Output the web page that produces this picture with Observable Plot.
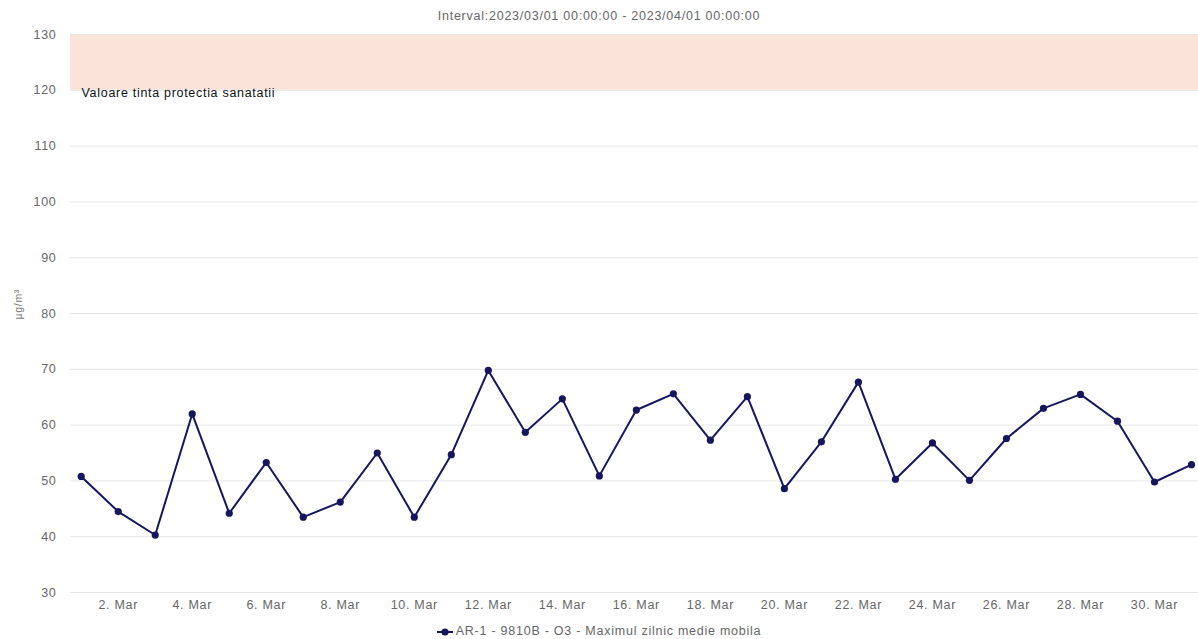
<!DOCTYPE html>
<html>
<head>
<meta charset="utf-8">
<script src="https://cdn.jsdelivr.net/npm/d3@7"></script>
<script src="https://cdn.jsdelivr.net/npm/@observablehq/plot@0.6"></script>
<style>
  html, body { margin: 0; padding: 0; background: #fff; }
  body { width: 1198px; height: 639px; position: relative; overflow: hidden; font-family: "Liberation Sans", Arial, sans-serif; }
  #title { position: absolute; top: 9px; left: 0; width: 1198px; text-align: center; font-size: 12.5px; letter-spacing: 0.75px; color: #666; }
  #chart { position: absolute; top: 0; left: 0; }
  #legend { position: absolute; top: 624px; left: 0; width: 1198px; text-align: center; font-size: 12.5px; letter-spacing: 0.75px; color: #666; }
  #legend svg { vertical-align: middle; margin-right: 3px; }
  #chart svg text { letter-spacing: 0.7px; }
</style>
</head>
<body>
<div id="chart"></div>
<div id="title"></div>
<div id="legend"></div>
<script>
const titleText = "Interval:2023/03/01 00:00:00 - 2023/04/01 00:00:00";
const seriesName = "AR-1 - 9810B - O3 - Maximul zilnic medie mobila";
const yLabel = "µg/m³";
const bandLabel = "Valoare tinta protectia sanatatii";
const bandRange = [120, 130];
const yTicks = [30, 40, 50, 60, 70, 80, 90, 100, 110, 120, 130];
const xTickDays = [2, 4, 6, 8, 10, 12, 14, 16, 18, 20, 22, 24, 26, 28, 30];
const days = [1,2,3,4,5,6,7,8,9,10,11,12,13,14,15,16,17,18,19,20,21,22,23,24,25,26,27,28,29,30,31];
const o3 = [50.8,44.5,40.3,62.0,44.2,53.3,43.5,46.2,55.0,43.5,54.7,69.8,58.7,64.7,50.9,62.7,65.6,57.3,65.1,48.6,57.0,67.7,50.3,56.8,50.1,57.6,63.0,65.5,60.7,49.8,52.9];

const DAY = 86400000;
const toDate = d => new Date(Date.UTC(2023, 2, d));
const data = days.map((d, i) => ({date: toDate(d), value: o3[i]}));
const xMin = new Date(toDate(1).getTime() - 0.289 * DAY);
const xMax = new Date(toDate(31).getTime() + 0.189 * DAY);
const navy = "#16165e";

document.getElementById("title").textContent = titleText;

const chart = Plot.plot({
  width: 1198,
  height: 639,
  marginLeft: 70,
  marginRight: 0,
  marginTop: 34,
  marginBottom: 47,
  style: {fontFamily: "'Liberation Sans', Arial, sans-serif", fontSize: "12.5px", color: "#666", background: "#fff"},
  x: {type: "utc", domain: [xMin, xMax]},
  y: {domain: [30, 130]},
  marks: [
    Plot.rect([bandRange], {x1: () => xMin, x2: () => xMax, y1: d => d[0], y2: d => d[1], fill: "#fbe3d9"}),
    Plot.gridY(yTicks, {stroke: "#e6e6e6", strokeOpacity: 1, strokeWidth: 1}),
    Plot.axisY(yTicks, {tickSize: 0, tickPadding: 14, fontSize: 12.5, fill: "#666", label: null}),
    Plot.axisX(xTickDays.map(toDate), {tickSize: 0, tickPadding: 8, fontSize: 12.5, fill: "#666", label: null, tickFormat: d => `${d.getUTCDate()}. Mar`}),
    Plot.text([yLabel], {frameAnchor: "left", dx: -52, dy: 6, rotate: -90, fontSize: 10.5, fill: "#777", text: d => d}),
    Plot.text([bandLabel], {x: () => xMin, y: () => bandRange[0], dx: 11, dy: 3, textAnchor: "start", fontSize: 12.5, fill: "#111", text: d => d}),
    Plot.line(data, {x: "date", y: "value", stroke: navy, strokeWidth: 2}),
    Plot.dot(data, {x: "date", y: "value", r: 3.6, fill: navy, stroke: "none"})
  ]
});
document.getElementById("chart").appendChild(chart);

const legend = document.getElementById("legend");
legend.innerHTML = `<svg width="16" height="10"><line x1="0" y1="5" x2="16" y2="5" stroke="${navy}" stroke-width="2"/><circle cx="8" cy="5" r="3.6" fill="${navy}"/></svg><span></span>`;
legend.querySelector("span").textContent = seriesName;
</script>
</body>
</html>
